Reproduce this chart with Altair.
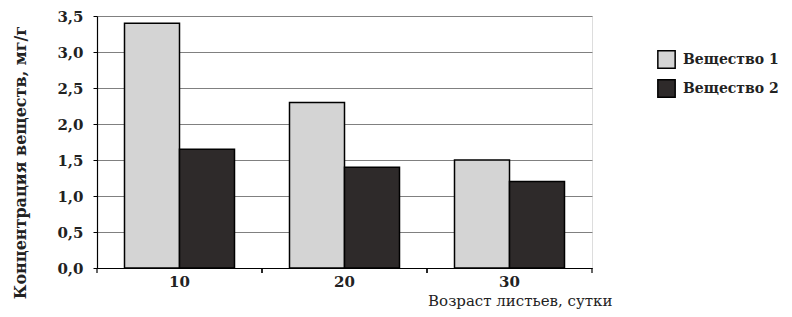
import altair as alt
import pandas as pd

ages = ["10", "20", "30"]
substances = ["Вещество 1", "Вещество 2"]
values_1 = [3.4, 2.3, 1.5]
values_2 = [1.65, 1.4, 1.2]
y_ticks = [0.0, 0.5, 1.0, 1.5, 2.0, 2.5, 3.0, 3.5]
colors = ["#d4d4d4", "#2e2a2a"]

rows = []
for i, a in enumerate(ages):
    rows.append({"age": a, "sub": substances[0], "val": values_1[i]})
    rows.append({"age": a, "sub": substances[1], "val": values_2[i]})
df = pd.DataFrame(rows)
cats = pd.DataFrame({"age": ages})

W, H = 495, 252
FONT = "DejaVu Serif"

x_scale = alt.Scale(domain=ages, paddingInner=0, paddingOuter=0)

bars = alt.Chart(df).mark_bar(stroke="black", strokeWidth=1.5).encode(
    x=alt.X("age:N", sort=ages, scale=x_scale,
            axis=alt.Axis(title="Возраст листьев, сутки", labelAngle=0, ticks=False,
                          domainColor="black", domainWidth=1.2,
                          labelFont=FONT, labelFontSize=15, labelFontWeight="bold",
                          labelColor="#222", labelPadding=6,
                          titleFont=FONT, titleFontSize=15, titleFontWeight="normal",
                          titleColor="#222", titleX=515, titleY=37, titleAlign="right",
                          titleBaseline="alphabetic")),
    xOffset=alt.XOffset("sub:N", sort=substances,
                        scale=alt.Scale(paddingInner=0, paddingOuter=0.5)),
    y=alt.Y("val:Q", scale=alt.Scale(domain=[0, 3.5], nice=False),
            axis=alt.Axis(values=y_ticks, labelExpr="replace(format(datum.value, '.1f'), '.', ',')",
                          title="Концентрация веществ, мг/г",
                          grid=True, gridColor="#808080", gridWidth=1,
                          domainColor="black", domainWidth=1.2,
                          tickColor="black", tickSize=4,
                          labelFont=FONT, labelFontSize=15, labelFontWeight="bold",
                          labelColor="#222", labelPadding=10,
                          titleFont=FONT, titleFontSize=16, titleFontWeight="bold",
                          titleColor="#222", titleAngle=-90, titleX=-77, titleY=146,
                          titleAlign="center", titleBaseline="middle")),
    color=alt.Color("sub:N", sort=substances,
                    scale=alt.Scale(domain=substances, range=colors),
                    legend=alt.Legend(title=None, orient="none", legendX=560, legendY=34,
                                      symbolType="square", symbolSize=300,
                                      symbolStrokeColor="black", symbolStrokeWidth=1.5,
                                      labelFont=FONT, labelFontSize=14, labelFontWeight="bold",
                                      labelColor="#222", rowPadding=4, padding=0,
                                      labelOffset=7)),
)

tick_rules_a = alt.Chart(cats).mark_rule(color="black", strokeWidth=1.2).encode(
    x=alt.X("age:N", sort=ages, scale=x_scale, bandPosition=0),
    y=alt.value(H),
    y2=alt.value(H + 5),
)
tick_rules_b = alt.Chart(cats).mark_rule(color="black", strokeWidth=1.2).encode(
    x=alt.X("age:N", sort=ages, scale=x_scale, bandPosition=1),
    y=alt.value(H),
    y2=alt.value(H + 5),
)

chart = alt.layer(bars, tick_rules_a, tick_rules_b).properties(
    width=W, height=H,
    autosize=alt.AutoSizeParams(type="none"),
    padding={"left": 89, "top": 8, "right": 192, "bottom": 41},
).configure_view(stroke="black", strokeWidth=1.2).configure(background="white")

chart.save("out.html", embed_options={"renderer": "svg", "actions": False})
